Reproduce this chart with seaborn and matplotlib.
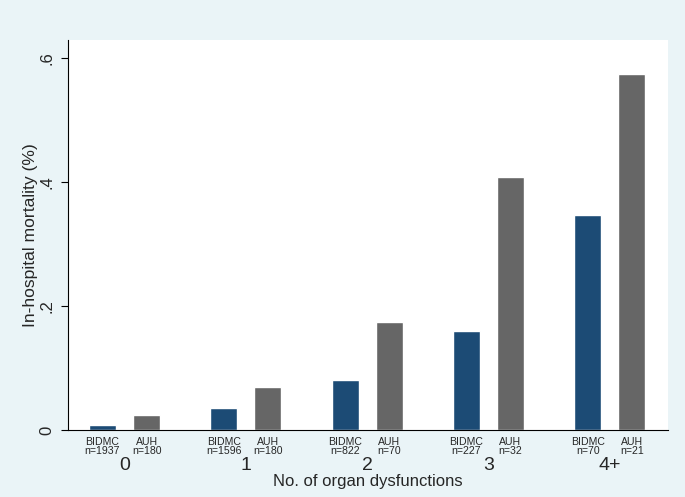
import pandas as pd
import matplotlib
matplotlib.use("Agg")
import matplotlib.pyplot as plt
import seaborn as sns

# ---------------- data ----------------
groups = ["0", "1", "2", "3", "4+"]
sources = ["BIDMC", "AUH"]
bidmc_mortality = [0.008, 0.035, 0.081, 0.160, 0.347]
auh_mortality = [0.024, 0.069, 0.174, 0.408, 0.574]
bidmc_n = [1937, 1596, 822, 227, 70]
auh_n = [180, 180, 70, 32, 21]

df = pd.DataFrame({
    "group": groups * 2,
    "source": ["BIDMC"] * len(groups) + ["AUH"] * len(groups),
    "mortality": bidmc_mortality + auh_mortality,
    "n": bidmc_n + auh_n,
})

bg = "#eaf4f7"
colors = {"BIDMC": "#1c4b75", "AUH": "#666666"}

sns.set_style("white")
plt.rcParams["font.family"] = ["Liberation Sans", "DejaVu Sans"]

fig = plt.figure(figsize=(6.85, 4.97), dpi=100, facecolor=bg)
ax = fig.add_axes([68 / 685, 67 / 497, 600 / 685, 390 / 497])
ax.set_facecolor("white")

sns.barplot(data=df, x="group", y="mortality", hue="source", hue_order=sources,
            order=groups, palette=colors, width=0.727, gap=0.387,
            saturation=1, ax=ax, legend=False, errorbar=None)

ax.set_xlim(-0.466, 4.48)
ax.set_ylim(0, 0.629)
ax.set_yticks([0, 0.2, 0.4, 0.6])
ax.set_yticklabels(["0", ".2", ".4", ".6"], rotation=90, va="center", fontsize=12)
ax.tick_params(axis="y", length=5, width=0.8, color="black", pad=4.5, left=True)
ax.tick_params(axis="x", length=0, pad=19.5, labelsize=14)
ax.set_xticks(range(len(groups)))
ax.set_xticklabels(groups)

for s in ["top", "right"]:
    ax.spines[s].set_visible(False)
for s in ["left", "bottom"]:
    ax.spines[s].set_color("black")
    ax.spines[s].set_linewidth(0.8)

# per-bar sublabels under the axis
for src, cont in zip(sources, ax.containers):
    ns = df[df["source"] == src]["n"].tolist()
    for bar, n in zip(cont.patches, ns):
        xc = bar.get_x() + bar.get_width() / 2
        ax.annotate(f"{src}\nn={n}", xy=(xc, 0), xycoords=("data", "axes fraction"),
                    xytext=(0, -5), textcoords="offset points",
                    ha="center", va="top", fontsize=7.6, linespacing=0.9)

ax.set_xlabel("No. of organ dysfunctions", fontsize=12, labelpad=0)
ax.set_ylabel("In-hospital mortality (%)", fontsize=12.6, labelpad=1)

fig.savefig("out.png", dpi=100, facecolor=bg)
